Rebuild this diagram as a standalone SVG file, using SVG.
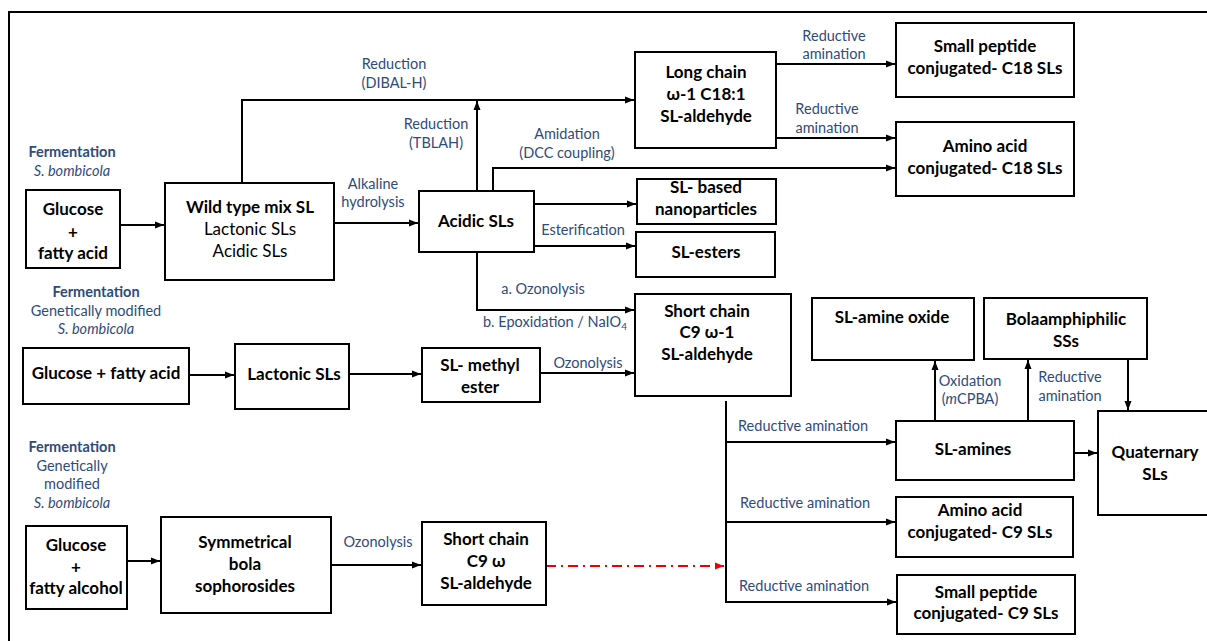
<svg xmlns="http://www.w3.org/2000/svg" width="1207" height="641" viewBox="0 0 1207 641">
<style>
.box{fill:#fff;stroke:#000;stroke-width:2}
.n{font-family:Lato,"Liberation Sans",sans-serif;font-size:17px;font-weight:bold;fill:#000;text-anchor:middle}
.r{font-weight:normal}
.l{font-family:Lato,"Liberation Sans",sans-serif;font-size:14.5px;fill:#2F4B7C;text-anchor:middle}
.lb{font-weight:bold}
.it{font-style:italic}
.c{fill:none;stroke:#000;stroke-width:2}
.red{fill:none;stroke:#e00;stroke-width:2;stroke-dasharray:10,5,2,5}
</style>
<defs>
<marker id="a" markerUnits="userSpaceOnUse" markerWidth="10" markerHeight="8" refX="9" refY="4" orient="auto"><path d="M0,0.5 L9,4 L0,7.5 z" fill="#000"/></marker>
<marker id="ar" markerUnits="userSpaceOnUse" markerWidth="10" markerHeight="8" refX="9" refY="4" orient="auto"><path d="M0,0.5 L9,4 L0,7.5 z" fill="#e00"/></marker>
</defs>
<rect width="1207" height="641" fill="#fff"/>
<path d="M9,641 V12 H1207" fill="none" stroke="#000" stroke-width="2"/>

<g id="connectors">
<path class="c" d="M120,225 H164" marker-end="url(#a)"/>
<path class="c" d="M242,183 V100 H634" marker-end="url(#a)"/>
<path class="c" d="M334,223 H418" marker-end="url(#a)"/>
<path class="c" d="M477,191 V101" marker-end="url(#a)"/>
<path class="c" d="M493,191 V168 H895" marker-end="url(#a)"/>
<path class="c" d="M534,204 H636" marker-end="url(#a)"/>
<path class="c" d="M534,246 H635" marker-end="url(#a)"/>
<path class="c" d="M477,252 V310 H634" marker-end="url(#a)"/>
<path class="c" d="M776,64 H895" marker-end="url(#a)"/>
<path class="c" d="M776,138 H895" marker-end="url(#a)"/>
<path class="c" d="M189,375 H234" marker-end="url(#a)"/>
<path class="c" d="M349,374 H421" marker-end="url(#a)"/>
<path class="c" d="M540,373 H634" marker-end="url(#a)"/>
<path class="c" d="M127,561 H160" marker-end="url(#a)"/>
<path class="c" d="M331,565 H421" marker-end="url(#a)"/>
<path class="red" d="M546,566 H724" marker-end="url(#ar)"/>
<path class="c" d="M726,401 V602"/>
<path class="c" d="M726,442 H895" marker-end="url(#a)"/>
<path class="c" d="M726,522 H895" marker-end="url(#a)"/>
<path class="c" d="M725,602 H896" marker-end="url(#a)"/>
<path class="c" d="M935,421 V361" marker-end="url(#a)"/>
<path class="c" d="M1028,421 V360" marker-end="url(#a)"/>
<path class="c" d="M1128,359 V410" marker-end="url(#a)"/>
<path class="c" d="M1074,453 H1097" marker-end="url(#a)"/>
</g>

<g id="labels">
<text class="l lb" x="72" y="157">Fermentation</text>
<text class="l it" x="72" y="176">S. bombicola</text>
<text class="l" x="394" y="69">Reduction</text>
<text class="l" x="394" y="88">(DIBAL-H)</text>
<text class="l" x="373" y="189">Alkaline</text>
<text class="l" x="373" y="207">hydrolysis</text>
<text class="l" x="436" y="129">Reduction</text>
<text class="l" x="436" y="148">(TBLAH)</text>
<text class="l" x="567" y="139">Amidation</text>
<text class="l" x="567" y="158">(DCC coupling)</text>
<text class="l" x="834" y="41">Reductive</text>
<text class="l" x="834" y="59">amination</text>
<text class="l" x="827" y="114">Reductive</text>
<text class="l" x="827" y="133">amination</text>
<text class="l" x="583" y="235">Esterification</text>
<text class="l" x="543" y="294">a. Ozonolysis</text>
<text class="l" x="483" y="327" style="text-anchor:start">b. Epoxidation / NaIO<tspan font-size="10" dy="3">4</tspan></text>
<text class="l lb" x="96" y="297">Fermentation</text>
<text class="l" x="96" y="316">Genetically modified</text>
<text class="l it" x="96" y="334">S. bombicola</text>
<text class="l" x="588" y="368">Ozonolysis</text>
<text class="l lb" x="72" y="452">Fermentation</text>
<text class="l" x="72" y="471">Genetically</text>
<text class="l" x="72" y="489">modified</text>
<text class="l it" x="72" y="508">S. bombicola</text>
<text class="l" x="378" y="547">Ozonolysis</text>
<text class="l" x="738" y="431" style="text-anchor:start">Reductive amination</text>
<text class="l" x="740" y="508" style="text-anchor:start">Reductive amination</text>
<text class="l" x="739" y="591" style="text-anchor:start">Reductive amination</text>
<text class="l" x="970" y="386">Oxidation</text>
<text class="l" x="970" y="404">(<tspan class="it">m</tspan>CPBA)</text>
<text class="l" x="1070" y="382">Reductive</text>
<text class="l" x="1070" y="401">amination</text>
</g>

<g id="n1"><rect class="box" x="26" y="190" width="94" height="78"/>
<text class="n" x="73" y="215">Glucose</text><text class="n" x="73" y="238">+</text><text class="n" x="73" y="259">fatty acid</text></g>
<g id="n2"><rect class="box" x="165" y="183" width="169" height="97"/>
<text class="n" x="250" y="213">Wild type mix SL</text><text class="n r" x="250" y="235">Lactonic SLs</text><text class="n r" x="250" y="257">Acidic SLs</text></g>
<g id="n3"><rect class="box" x="419" y="191" width="115" height="61"/>
<text class="n" x="476" y="227">Acidic SLs</text></g>
<g id="n4"><rect class="box" x="635" y="52" width="141" height="96"/>
<text class="n" x="706" y="78">Long chain</text><text class="n" x="706" y="100">ω-1 C18:1</text><text class="n" x="706" y="122">SL-aldehyde</text></g>
<g id="n5"><rect class="box" x="896" y="23" width="178" height="74"/>
<text class="n" x="985" y="52">Small peptide</text><text class="n" x="985" y="74">conjugated- C18 SLs</text></g>
<g id="n6"><rect class="box" x="896" y="122" width="178" height="74"/>
<text class="n" x="985" y="152">Amino acid</text><text class="n" x="985" y="174">conjugated- C18 SLs</text></g>
<g id="n7"><rect class="box" x="637" y="179" width="139" height="45"/>
<text class="n" x="706" y="193">SL- based</text><text class="n" x="706" y="215">nanoparticles</text></g>
<g id="n8"><rect class="box" x="636" y="232" width="139" height="45"/>
<text class="n" x="706" y="258">SL-esters</text></g>
<g id="n9"><rect class="box" x="635" y="294" width="156" height="102"/>
<text class="n" x="707" y="317">Short chain</text><text class="n" x="707" y="338">C9 ω-1</text><text class="n" x="707" y="360">SL-aldehyde</text></g>
<g id="n10"><rect class="box" x="23" y="348" width="166" height="56"/>
<text class="n" x="106" y="379">Glucose + fatty acid</text></g>
<g id="n11"><rect class="box" x="235" y="344" width="114" height="65"/>
<text class="n" x="294" y="380">Lactonic SLs</text></g>
<g id="n12"><rect class="box" x="422" y="348" width="118" height="54"/>
<text class="n" x="480" y="371">SL- methyl</text><text class="n" x="480" y="393">ester</text></g>
<g id="n13"><rect class="box" x="26" y="526" width="101" height="83"/>
<text class="n" x="76" y="551">Glucose</text><text class="n" x="76" y="573">+</text><text class="n" x="76" y="594">fatty alcohol</text></g>
<g id="n14"><rect class="box" x="161" y="517" width="170" height="96"/>
<text class="n" x="245" y="548">Symmetrical</text><text class="n" x="245" y="570">bola</text><text class="n" x="245" y="592">sophorosides</text></g>
<g id="n15"><rect class="box" x="422" y="522" width="124" height="83"/>
<text class="n" x="486" y="545">Short chain</text><text class="n" x="486" y="567">C9 ω</text><text class="n" x="486" y="589">SL-aldehyde</text></g>
<g id="n16"><rect class="box" x="812" y="298" width="162" height="62"/>
<text class="n" x="892" y="323">SL-amine oxide</text></g>
<g id="n17"><rect class="box" x="984" y="298" width="163" height="61"/>
<text class="n" x="1066" y="325">Bolaamphiphilic</text><text class="n" x="1066" y="347">SSs</text></g>
<g id="n18"><rect class="box" x="896" y="421" width="178" height="59"/>
<text class="n" x="973" y="455">SL-amines</text></g>
<g id="n19"><rect class="box" x="896" y="497" width="177" height="60"/>
<text class="n" x="980" y="516">Amino acid</text><text class="n" x="980" y="538">conjugated- C9 SLs</text></g>
<g id="n20"><rect class="box" x="897" y="575" width="178" height="59"/>
<text class="n" x="986" y="598">Small peptide</text><text class="n" x="986" y="619">conjugated- C9 SLs</text></g>
<g id="n21"><rect class="box" x="1098" y="411" width="130" height="104"/>
<text class="n" x="1155" y="458">Quaternary</text><text class="n" x="1155" y="480">SLs</text></g>
</svg>
